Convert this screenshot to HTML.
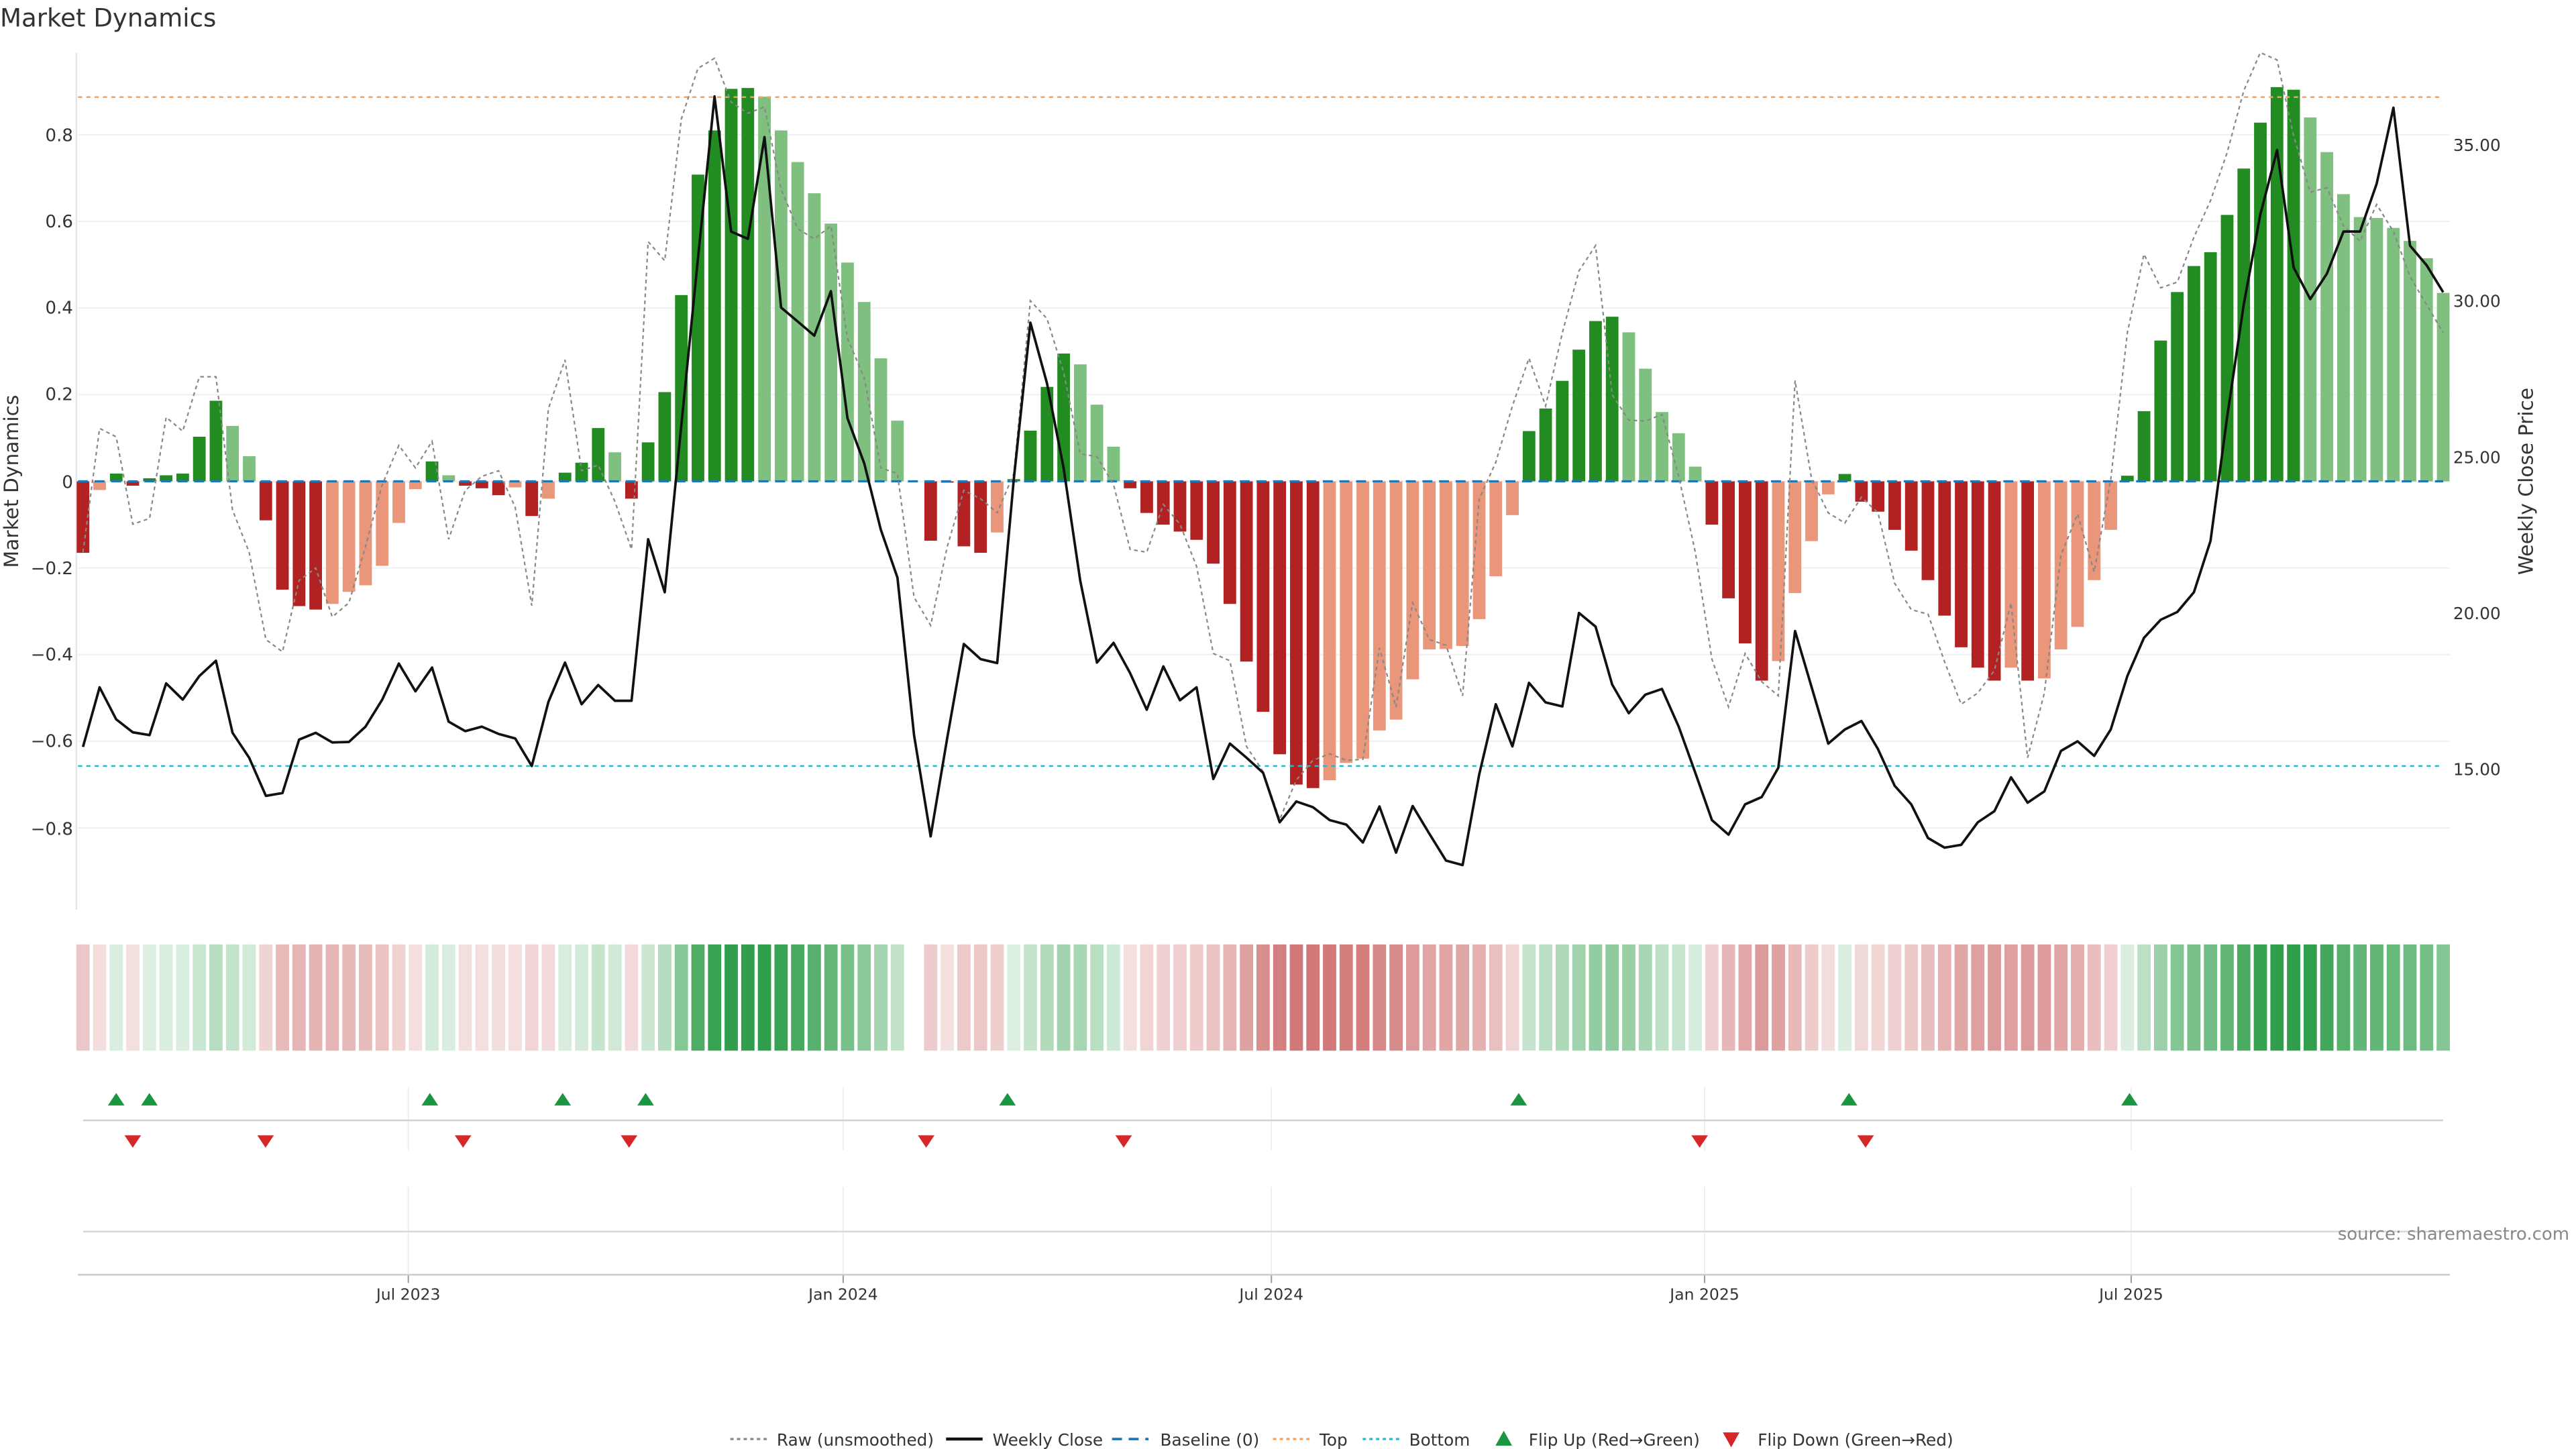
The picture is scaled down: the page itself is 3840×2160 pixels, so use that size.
<!DOCTYPE html>
<html><head><meta charset="utf-8"><style>
html,body{margin:0;padding:0;background:#fff;}
svg{display:block;font-family:"DejaVu Sans","Liberation Sans",sans-serif;}
</style></head><body>
<svg id="c" xmlns="http://www.w3.org/2000/svg" width="3840" height="2160" viewBox="0 0 1552 873" preserveAspectRatio="none">
<rect width="1552" height="873" fill="#fff"/>
<g id="grid"></g>
<g id="bars"></g>
<g id="lines"></g>
<g id="heat"></g>
<g id="marks"></g>
<text x="0" y="16" font-size="15" fill="#333">Market Dynamics</text>
<g font-size="10.5" fill="#333" text-anchor="end">
<text x="44" y="85">0.8</text><text x="44" y="137">0.6</text><text x="44" y="189">0.4</text><text x="44" y="241">0.2</text><text x="44" y="294">0</text><text x="44" y="346">−0.2</text><text x="44" y="398">−0.4</text><text x="44" y="450">−0.6</text><text x="44" y="503">−0.8</text>
</g>
<g font-size="10" fill="#333">
<text x="1478" y="91">35.00</text><text x="1478" y="185">30.00</text><text x="1478" y="279">25.00</text><text x="1478" y="373">20.00</text><text x="1478" y="467">15.00</text>
</g>
<text transform="translate(11,290) rotate(-90)" font-size="12" fill="#333" text-anchor="middle">Market Dynamics</text>
<text transform="translate(1526,290) rotate(-90)" font-size="12" fill="#333" text-anchor="middle">Weekly Close Price</text>
<g font-size="9.5" fill="#333" text-anchor="middle">
<text x="246" y="783">Jul 2023</text><text x="508" y="783">Jan 2024</text><text x="766" y="783">Jul 2024</text><text x="1027" y="783">Jan 2025</text><text x="1284" y="783">Jul 2025</text>
</g>
<text x="1548" y="747" font-size="10.5" fill="#888" text-anchor="end">source: sharemaestro.com</text>
<g font-size="10" fill="#333">
<line x1="440" y1="867" x2="462" y2="867" stroke="#888" stroke-width="1.3" stroke-dasharray="2,2"/>
<text x="468" y="871">Raw (unsmoothed)</text>
<line x1="570" y1="867" x2="592" y2="867" stroke="#111" stroke-width="1.8"/>
<text x="598" y="871">Weekly Close</text>
<line x1="670" y1="867" x2="692" y2="867" stroke="#1f77b4" stroke-width="1.5" stroke-dasharray="6,4"/>
<text x="699" y="871">Baseline (0)</text>
<line x1="767" y1="867" x2="789" y2="867" stroke="#f4a261" stroke-width="1.3" stroke-dasharray="2,2"/>
<text x="795" y="871">Top</text>
<line x1="821" y1="867" x2="843" y2="867" stroke="#22bcd0" stroke-width="1.3" stroke-dasharray="2,2"/>
<text x="849" y="871">Bottom</text>
<polygon points="901,871 911,871 906,862" fill="#1a9641"/>
<text x="921" y="871">Flip Up (Red→Green)</text>
<polygon points="1038,863 1048,863 1043,872" fill="#d62728"/>
<text x="1059" y="871">Flip Down (Green→Red)</text>
</g>
</svg>
<script>
var NS="http://www.w3.org/2000/svg";
function el(p,t,a){var e=document.createElementNS(NS,t);for(var k in a)e.setAttribute(k,a[k]);p.appendChild(e);return e;}
var vals=[-0.165,-0.02,0.018,-0.01,0.007,0.014,0.018,0.103,0.186,0.128,0.058,-0.09,-0.25,-0.288,-0.296,-0.283,-0.255,-0.24,-0.195,-0.096,-0.018,0.046,0.014,-0.01,-0.016,-0.032,-0.014,-0.08,-0.04,0.02,0.043,0.123,0.067,-0.04,0.09,0.206,0.43,0.708,0.81,0.906,0.908,0.888,0.81,0.737,0.665,0.595,0.505,0.414,0.284,
0.14,0,-0.137,-0.003,-0.15,-0.165,-0.118,0.005,0.117,0.218,0.295,0.27,0.177,0.08,-0.016,-0.073,-0.1,-0.116,-0.135,-0.19,-0.283,-0.416,-0.532,-0.63,-0.7,-0.708,-0.69,-0.65,-0.64,-0.575,-0.55,-0.457,-0.388,-0.387,-0.38,-0.318,-0.219,-0.078,0.116,0.168,0.232,0.304,0.37,0.38,0.344,0.26,0.16,0.111,0.034,-0.1,-0.27,-0.374,-0.46,
-0.415,-0.258,-0.138,-0.03,0.017,-0.047,-0.07,-0.112,-0.16,-0.228,-0.31,-0.383,-0.43,-0.46,-0.43,-0.46,-0.455,-0.388,-0.336,-0.228,-0.112,0.013,0.162,0.325,0.437,0.497,0.529,0.615,0.722,0.828,0.91,0.904,0.84,0.76,0.663,0.61,0.608,0.585,0.555,0.515,0.435];
var types="RrGRGGGGGggRRRRrrrrrrGgRRRrRrGGGgRGGGGGGGgggggggg"+"gRRRRRrGGGGgggRRRRRRRRRRRRrrrrrrrrrrrrGGGGGGgggggRRRR"+"rrrrGRRRRRRRRRrRrrrrrGGGGGGGGGGGggggggggggg";
var close=[1256,1150,1207,1230,1235,1143,1172,1130,1103,1231,1275,1343,1338,1243,1231,1248,1247,1220,1172,1108,1157,1115,1211,1228,1220,1233,1241,1290,1176,1106,1180,1146,1174,1174,887,981,684,388,100,340,353,172,475,500,525,446,672,752,870,
955,1235,1415,1240,1073,1100,1107,780,502,610,760,960,1106,1071,1125,1190,1113,1173,1150,1313,1250,1275,1302,1390,1353,1363,1386,1394,1426,1362,1444,1361,1410,1458,1466,1305,1180,1255,1142,1177,1184,1018,1042,1145,1196,1163,1153,1220,1302,1386,1412,1358,1345,
1293,1050,1150,1250,1225,1210,1260,1325,1358,1418,1435,1430,1390,1370,1310,1355,1335,1263,1246,1272,1225,1130,1062,1030,1016,981,890,670,470,310,195,404,460,415,340,340,255,120,365,400,448];
var raw=[910,690,705,860,850,670,695,598,598,835,910,1065,1087,960,938,1025,1000,900,790,720,760,713,887,800,775,765,830,1005,655,568,765,755,820,905,358,392,140,50,32,110,130,118,265,335,353,330,530,600,760,
770,990,1040,900,800,815,840,770,463,495,590,735,740,790,905,910,825,860,935,1090,1103,1255,1300,1385,1315,1280,1268,1280,1278,1080,1185,1000,1065,1075,1165,815,750,650,565,650,520,410,365,630,675,677,665,775,910,1100,1185,1090,1140,
1165,605,780,840,858,812,840,965,1012,1020,1105,1180,1160,1120,1000,1275,1160,915,842,945,780,520,380,440,430,350,285,200,90,22,35,170,270,262,330,357,292,340,420,470,520];
var N=vals.length, X0=50, X1=1472, dx=(X1-X0)/(N-1);
function xs(i){return X0+i*dx;}
function vy(v){return 290-v*261;}
function zy(z){return z/2.95+24.25;}
var g=document.getElementById('grid');
el(g,'line',{x1:46,y1:32,x2:46,y2:548,stroke:'#e4e6ee','stroke-width':1});
for(var k=-4;k<=4;k++){var y=vy(k*0.2);el(g,'line',{x1:47,y1:y,x2:1476,y2:y,stroke:'#eef0f3','stroke-width':0.8});}
var ticks=[246,508,766,1027,1284];
ticks.forEach(function(t){
 el(g,'line',{x1:t,y1:655,x2:t,y2:693,stroke:'#eceef1','stroke-width':0.8});
 el(g,'line',{x1:t,y1:715,x2:t,y2:768,stroke:'#eceef1','stroke-width':0.8});
 el(g,'line',{x1:t,y1:768,x2:t,y2:773,stroke:'#999','stroke-width':0.8});
});
el(g,'line',{x1:50,y1:675,x2:1472,y2:675,stroke:'#d0d0d0','stroke-width':1});
el(g,'line',{x1:50,y1:742,x2:1472,y2:742,stroke:'#d8d8d8','stroke-width':1});
el(g,'line',{x1:47,y1:768,x2:1476,y2:768,stroke:'#cccccc','stroke-width':1});
var b=document.getElementById('bars');
var col={G:'#228b22',g:'#7fbf7f',R:'#b22222',r:'#e9967a'};
var hm=document.getElementById('heat');
for(var i=0;i<N;i++){
 var v=vals[i],x=xs(i);
 if(v!==0){var y0=vy(Math.max(v,0)),h=Math.abs(v)*261;
  el(b,'rect',{x:x-3.8,y:y0,width:7.6,height:Math.max(h,0.6),fill:col[types[i]]||'#7fbf7f'});
  var c,a;
  if(v>0){a=Math.min(0.15+0.9*v,0.92);c=[30,150,60];}else{a=Math.min(0.17+0.85*Math.abs(v),0.75);c=[195,75,75];}
  var rr=Math.round(255-a*(255-c[0])),gg=Math.round(255-a*(255-c[1])),bb=Math.round(255-a*(255-c[2]));
  el(hm,'rect',{x:x-4,y:569,width:8,height:64,fill:'rgb('+rr+','+gg+','+bb+')'});
 }
}
var L=document.getElementById('lines');
el(L,'line',{x1:47,y1:290,x2:1472,y2:290,stroke:'#1f77b4','stroke-width':1.3,'stroke-dasharray':'6,4'});
el(L,'line',{x1:47,y1:58.5,x2:1472,y2:58.5,stroke:'#f4a261','stroke-width':1,'stroke-dasharray':'2.5,2.5'});
el(L,'line',{x1:47,y1:461.5,x2:1472,y2:461.5,stroke:'#22bcd0','stroke-width':1,'stroke-dasharray':'2.5,2.5'});
var p1=raw.map(function(z,i){return xs(i).toFixed(1)+','+zy(z).toFixed(1);}).join(' ');
el(L,'polyline',{points:p1,fill:'none',stroke:'#888','stroke-width':0.9,'stroke-dasharray':'2.2,2'});
var p2=close.map(function(z,i){return xs(i).toFixed(1)+','+zy(z).toFixed(1);}).join(' ');
el(L,'polyline',{points:p2,fill:'none',stroke:'#111','stroke-width':1.5,'stroke-linejoin':'round'});
var M=document.getElementById('marks');
[70,90,259,339,389,607,915,1114,1283].forEach(function(x){el(M,'polygon',{points:(x-5)+',666 '+(x+5)+',666 '+x+',658.5',fill:'#1a9641'});});
[80,160,279,379,558,677,1024,1124].forEach(function(x){el(M,'polygon',{points:(x-5)+',684 '+(x+5)+',684 '+x+',691.5',fill:'#d62728'});});
</script>
</body></html>
